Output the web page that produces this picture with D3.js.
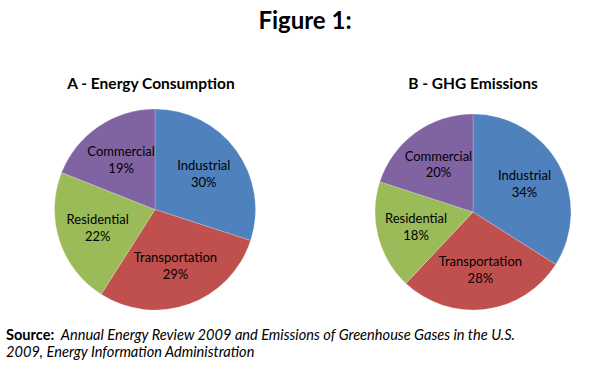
<!DOCTYPE html>
<html>
<head>
<meta charset="utf-8">
<script src="https://cdn.jsdelivr.net/npm/d3@7"></script>
<style>
html,body{margin:0;padding:0;background:#fff;}
svg{display:block;}
</style>
</head>
<body>
<svg id="chart" width="599" height="374"></svg>
<script>
const categories = ["Industrial", "Transportation", "Residential", "Commercial"];
const energyValues = [30, 29, 22, 19];
const ghgValues = [34, 28, 18, 20];
const chartTitles = ["A - Energy Consumption", "B - GHG Emissions"];
const colors = ["#4F81BD", "#C0504D", "#9BBB59", "#8064A2"];

const svg = d3.select("#chart");
const FONT = "Lato, 'Open Sans', sans-serif";

svg.append("text").attr("x", 305).attr("y", 29).attr("text-anchor", "middle")
  .attr("font-family", FONT).attr("font-weight", "bold").attr("font-size", 24)
  .attr("fill", "#000").text("Figure 1:");

const pies = [
  {title: chartTitles[0], values: energyValues, cx: 155, cy: 209.5, r: 100.5, tx: 151},
  {title: chartTitles[1], values: ghgValues, cx: 473, cy: 212, r: 98, tx: 473}
];

const pie = d3.pie().sort(null).value(d => d.v);

pies.forEach(p => {
  svg.append("text").attr("x", p.tx).attr("y", 89).attr("text-anchor", "middle")
    .attr("font-family", FONT).attr("font-weight", "bold").attr("font-size", 15.5)
    .attr("fill", "#000").text(p.title);
  const g = svg.append("g").attr("transform", `translate(${p.cx},${p.cy})`);
  const data = pie(categories.map((c, i) => ({c, v: p.values[i], i})));
  const arc = d3.arc().innerRadius(0).outerRadius(p.r);
  g.selectAll("path").data(data).join("path")
    .attr("d", arc)
    .attr("fill", d => colors[d.data.i])
    .attr("stroke", "rgba(255,255,255,0.35)").attr("stroke-width", 0.6);
  const labelArc = d3.arc().innerRadius(p.r * 0.6).outerRadius(p.r * 0.6);
  const lbl = g.selectAll("text.lbl").data(data).join("text").attr("class", "lbl")
    .attr("transform", d => { const [x, y] = labelArc.centroid(d); return `translate(${x},${y})`; })
    .attr("text-anchor", "middle").attr("font-family", FONT).attr("font-size", 13).attr("fill", "#000");
  lbl.append("tspan").attr("x", 0).attr("dy", "-0.3em").text(d => d.data.c);
  lbl.append("tspan").attr("x", 0).attr("dy", "1.3em").text(d => d.data.v + "%");
});

const src = svg.append("text").attr("x", 6).attr("y", 340)
  .attr("font-family", FONT).attr("font-size", 14.6).attr("fill", "#000");
src.append("tspan").attr("font-weight", "bold").text("Source:");
src.append("tspan").attr("font-style", "italic").text("\u00a0 Annual Energy Review 2009 and Emissions of Greenhouse Gases in the U.S.");
svg.append("text").attr("x", 6).attr("y", 357)
  .attr("font-family", FONT).attr("font-size", 14.6).attr("font-style", "italic").attr("fill", "#000")
  .text("2009, Energy Information Administration");
</script>
</body>
</html>
